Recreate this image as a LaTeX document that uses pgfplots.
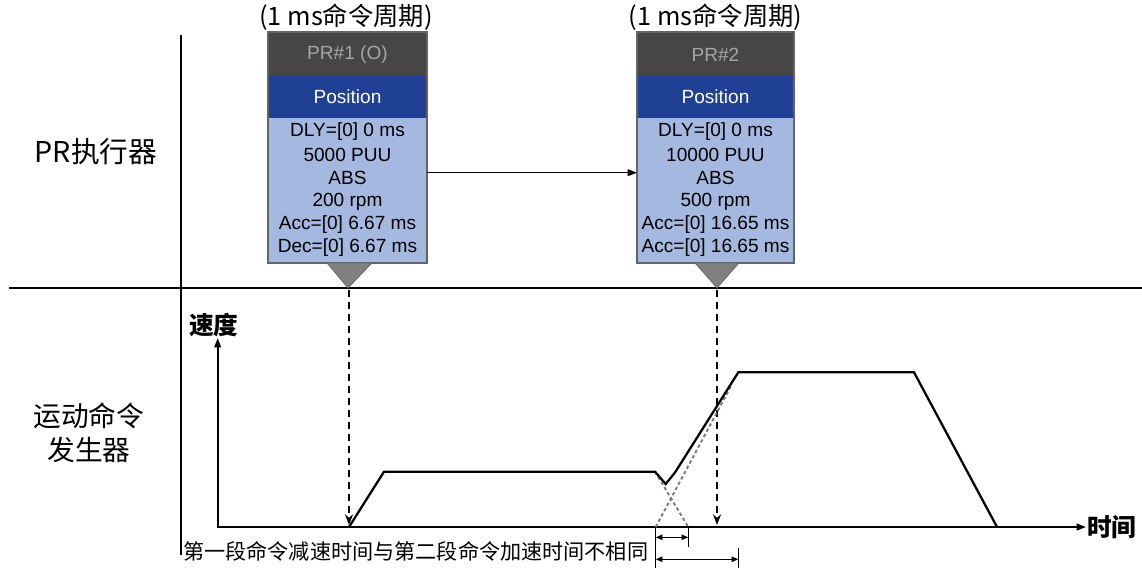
\documentclass[border=0pt]{standalone}
\usepackage{pgfplots}
\pgfplotsset{compat=1.18}
\usepackage{fontspec}
\setmainfont{Liberation Sans}
\newfontfamily\cjk{Noto Sans CJK SC}
\usetikzlibrary{arrows.meta}
\definecolor{hdr}{RGB}{71,69,69}
\definecolor{hdrtxt}{RGB}{166,166,166}
\definecolor{posblue}{RGB}{31,64,148}
\definecolor{ltblue}{RGB}{165,184,224}
\definecolor{bordergray}{RGB}{100,100,100}
\definecolor{trigray}{RGB}{128,128,128}
\definecolor{dotgray}{RGB}{120,120,120}
\begin{document}
\begin{tikzpicture}
\begin{axis}[name=ax, x=0.75pt, y=0.75pt, y dir=reverse,
  xmin=0, xmax=1142, ymin=0, ymax=568, hide axis, clip=false]
% ---------- frame lines
\draw[line width=1.1pt] (axis cs:181,35) -- (axis cs:181,555);
\draw[line width=1.1pt] (axis cs:9,288) -- (axis cs:1142,288);
% ---------- row labels
\node[font=\cjk\fontsize{21.5}{25}\selectfont, inner sep=0] at (axis cs:96,152) {PR执行器};
\node[font=\cjk\fontsize{20.8}{25}\selectfont, inner sep=0] at (axis cs:89,416) {运动命令};
\node[font=\cjk\fontsize{20.8}{25}\selectfont, inner sep=0] at (axis cs:89,450) {发生器};
% ---------- box 1
\fill[hdr] (axis cs:268,32) rectangle (axis cs:427,76);
\fill[posblue] (axis cs:268,76) rectangle (axis cs:427,118);
\fill[ltblue] (axis cs:268,118) rectangle (axis cs:427,263);
\draw[bordergray, line width=0.8pt] (axis cs:268,32) rectangle (axis cs:427,263);
\filldraw[fill=trigray, draw=bordergray, line width=0.5pt] (axis cs:327,263) -- (axis cs:372,263) -- (axis cs:348,288) -- cycle;
\node[font=\cjk\fontsize{19}{22}\selectfont, inner sep=0] at (axis cs:346,17) {(1 ms命令周期)};
\node[font=\fontsize{14.3}{17}\selectfont, text=hdrtxt, inner sep=0] at (axis cs:347.5,55) {PR\#1 (O)};
\node[font=\fontsize{14.3}{17}\selectfont, text=white, inner sep=0] at (axis cs:347.5,97) {Position};
\node[font=\fontsize{14.3}{17}\selectfont, inner sep=0] at (axis cs:347.5,131.5) {DLY=[0] 0 ms};
\node[font=\fontsize{14.3}{17}\selectfont, inner sep=0] at (axis cs:347.5,154.5) {5000 PUU};
\node[font=\fontsize{14.3}{17}\selectfont, inner sep=0] at (axis cs:347.5,178) {ABS};
\node[font=\fontsize{14.3}{17}\selectfont, inner sep=0] at (axis cs:347.5,201.5) {200 rpm};
\node[font=\fontsize{14.3}{17}\selectfont, inner sep=0] at (axis cs:347.5,225) {Acc=[0] 6.67 ms};
\node[font=\fontsize{14.3}{17}\selectfont, inner sep=0] at (axis cs:347.5,248) {Dec=[0] 6.67 ms};
% ---------- box 2
\fill[hdr] (axis cs:637,32) rectangle (axis cs:794,76);
\fill[posblue] (axis cs:637,76) rectangle (axis cs:794,118);
\fill[ltblue] (axis cs:637,118) rectangle (axis cs:794,263);
\draw[bordergray, line width=0.8pt] (axis cs:637,32) rectangle (axis cs:794,263);
\filldraw[fill=trigray, draw=bordergray, line width=0.5pt] (axis cs:695,263) -- (axis cs:739,263) -- (axis cs:717,288) -- cycle;
\node[font=\cjk\fontsize{19}{22}\selectfont, inner sep=0] at (axis cs:715.5,17) {(1 ms命令周期)};
\node[font=\fontsize{14.3}{17}\selectfont, text=hdrtxt, inner sep=0] at (axis cs:715.5,55) {PR\#2};
\node[font=\fontsize{14.3}{17}\selectfont, text=white, inner sep=0] at (axis cs:715.5,97) {Position};
\node[font=\fontsize{14.3}{17}\selectfont, inner sep=0] at (axis cs:715.5,131.5) {DLY=[0] 0 ms};
\node[font=\fontsize{14.3}{17}\selectfont, inner sep=0] at (axis cs:715.5,154.5) {10000 PUU};
\node[font=\fontsize{14.3}{17}\selectfont, inner sep=0] at (axis cs:715.5,178) {ABS};
\node[font=\fontsize{14.3}{17}\selectfont, inner sep=0] at (axis cs:715.5,201.5) {500 rpm};
\node[font=\fontsize{14.3}{17}\selectfont, inner sep=0] at (axis cs:715.5,225) {Acc=[0] 16.65 ms};
\node[font=\fontsize{14.3}{17}\selectfont, inner sep=0] at (axis cs:715.5,248) {Acc=[0] 16.65 ms};
% arrow between boxes
\draw[line width=1.1pt, -{Triangle[length=7pt,width=5pt]}] (axis cs:427,172.7) -- (axis cs:637,172.7);
% ---------- velocity axes
\draw[line width=1.4pt, -{Triangle[length=7pt,width=5pt]}] (axis cs:217.7,527) -- (axis cs:217.7,338);
\draw[line width=1.4pt, -{Triangle[length=7pt,width=5pt]}] (axis cs:216.7,527) -- (axis cs:1086,527);
\node[font=\cjk\bfseries\fontsize{18.5}{22}\selectfont, anchor=west, inner sep=0] at (axis cs:189,325) {速度};
\node[font=\cjk\bfseries\fontsize{18.5}{22}\selectfont, anchor=west, inner sep=0] at (axis cs:1087,527) {时间};
% ---------- dashed trigger lines
\addplot[line width=1.2pt, dash pattern=on 5.5pt off 3.5pt, -{Stealth[length=8pt,width=6pt]}] coordinates {(349,290) (349,525)};
\addplot[line width=1.2pt, dash pattern=on 5.5pt off 3.5pt, -{Stealth[length=8pt,width=6pt]}] coordinates {(717,290) (717,525)};
% ---------- dotted theoretical ramps
\addplot[dotgray, line width=1.4pt, dash pattern=on 2.5pt off 2pt] coordinates {(655,471.7) (688.3,527)};
\addplot[dotgray, line width=1.4pt, dash pattern=on 2.5pt off 2pt] coordinates {(655.7,527) (731,386)};
% ---------- velocity profile
\addplot[black, line width=1.7pt, line join=miter] coordinates {
 (349,527) (384,471.7) (655,471.7) (665.7,484) (675,472.5) (738.3,372.3) (914,372.3) (997,527)};
% ---------- dimension arrows
\draw[line width=1pt] (axis cs:655.7,527) -- (axis cs:655.7,568);
\draw[line width=1pt] (axis cs:688.3,527) -- (axis cs:688.3,547);
\draw[line width=1pt] (axis cs:738.3,548) -- (axis cs:738.3,568);
\draw[line width=1pt, {Triangle[length=5pt,width=4pt]}-{Triangle[length=5pt,width=4pt]}] (axis cs:655.7,537.3) -- (axis cs:688.3,537.3);
\draw[line width=1pt, {Triangle[length=5pt,width=4pt]}-{Triangle[length=5pt,width=4pt]}] (axis cs:655.7,559.3) -- (axis cs:738.3,559.3);
\node[font=\cjk\fontsize{15.85}{19}\selectfont, anchor=west, inner sep=0] at (axis cs:183,551.7) {第一段命令减速时间与第二段命令加速时间不相同};
\end{axis}
\pgfresetboundingbox
\path (ax.south west) rectangle (ax.north east);
\end{tikzpicture}
\end{document}
